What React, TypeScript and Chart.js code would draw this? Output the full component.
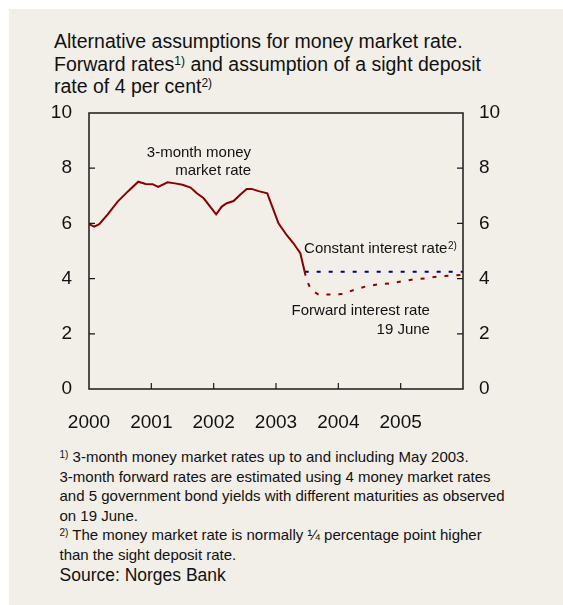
import React, { useEffect, useRef } from 'react';
import { Chart, registerables } from 'chart.js';

Chart.register(...registerables);

const FONT = 'Arial, "Liberation Sans", Helvetica, sans-serif';

// 3-month money market rate (decimal year, per cent)
const mmDates = [2000.0, 2000.085, 2000.165, 2000.30, 2000.46, 2000.62, 2000.79, 2000.91, 2001.02, 2001.11, 2001.26, 2001.38, 2001.50, 2001.63, 2001.73, 2001.84, 2002.04, 2002.13, 2002.21, 2002.32, 2002.42, 2002.53, 2002.61, 2002.72, 2002.86, 2003.04, 2003.17, 2003.28, 2003.39, 2003.46];
const mmRates = [5.97, 5.88, 5.97, 6.33, 6.79, 7.15, 7.51, 7.43, 7.42, 7.32, 7.49, 7.45, 7.40, 7.30, 7.09, 6.91, 6.33, 6.61, 6.73, 6.81, 7.03, 7.25, 7.25, 7.17, 7.09, 6.00, 5.58, 5.28, 4.92, 4.25];

// Constant interest rate assumption
const constDates = [2003.46, 2006.0];
const constRates = [4.25, 4.25];

// Forward interest rate 19 June
const fwdDates = [2003.46, 2003.49, 2003.56, 2003.68, 2003.88, 2004.07, 2004.25, 2004.43, 2004.63, 2004.83, 2005.02, 2005.2, 2005.4, 2005.6, 2005.8, 2006.0];
const fwdRates = [4.25, 3.95, 3.61, 3.42, 3.42, 3.44, 3.59, 3.71, 3.79, 3.83, 3.90, 3.97, 4.01, 4.08, 4.11, 4.14];

const yearTicks = [2000, 2001, 2002, 2003, 2004, 2005, 2006];
const valueTicks = [0, 2, 4, 6, 8, 10];

const annotations = [
  { text: '3-month money', x: 2002.60, y: 8.39, align: 'right' },
  { text: 'market rate', x: 2002.60, y: 7.75, align: 'right' },
  { text: 'Constant interest rate', sup: '2)', x: 2003.45, y: 4.91, align: 'left' },
  { text: 'Forward interest rate', x: 2005.47, y: 2.68, align: 'right' },
  { text: '19 June', x: 2005.47, y: 1.99, align: 'right' },
];

const toXY = (xs: number[], ys: number[]) => xs.map((x, i) => ({ x, y: ys[i] }));

const framePlugin = {
  id: 'frameTicksLabels',
  afterDatasetsDraw(chart: any) {
    const { ctx, chartArea: a, scales } = chart;
    ctx.save();
    ctx.strokeStyle = '#1a1a1a';
    ctx.lineWidth = 1.5;
    ctx.strokeRect(a.left, a.top, a.right - a.left, a.bottom - a.top);
    ctx.lineWidth = 1.2;
    ctx.beginPath();
    for (const v of valueTicks) {
      if (v === 0 || v === 10) continue;
      const y = scales.y.getPixelForValue(v);
      ctx.moveTo(a.left, y);
      ctx.lineTo(a.left + 6, y);
      ctx.moveTo(a.right, y);
      ctx.lineTo(a.right - 6, y);
    }
    for (const yr of yearTicks) {
      if (yr === 2000 || yr === 2006) continue;
      const x = scales.x.getPixelForValue(yr);
      ctx.moveTo(x, a.bottom);
      ctx.lineTo(x, a.bottom - 6);
    }
    ctx.stroke();

    ctx.fillStyle = '#111';
    ctx.textBaseline = 'alphabetic';
    for (const an of annotations) {
      const px = scales.x.getPixelForValue(an.x);
      const py = scales.y.getPixelForValue(an.y);
      ctx.font = `15px ${FONT}`;
      ctx.textAlign = an.align;
      ctx.fillText(an.text, px, py);
      if (an.sup) {
        const w = ctx.measureText(an.text).width;
        ctx.font = `10px ${FONT}`;
        ctx.textAlign = 'left';
        ctx.fillText(an.sup, an.align === 'left' ? px + w + 0.5 : px + 0.5, py - 4);
      }
    }
    ctx.restore();
  },
};

function ChartCanvas() {
  const ref = useRef<HTMLCanvasElement | null>(null);
  useEffect(() => {
    if (!ref.current) return;
    const tickFont = { family: FONT, size: 19 };
    const fitY = (w: number) => (s: any) => {
      s.width = w;
      s.paddingTop = 0;
      s.paddingBottom = 0;
    };
    const chart = new Chart(ref.current, {
      type: 'line',
      data: {
        datasets: [
          {
            label: '3-month money market rate',
            data: toXY(mmDates, mmRates),
            borderColor: '#880000',
            borderWidth: 2,
            pointRadius: 0,
            tension: 0,
          },
          {
            label: 'Forward interest rate 19 June',
            data: toXY(fwdDates, fwdRates),
            borderColor: '#880000',
            borderWidth: 2,
            borderDash: [4, 8],
            pointRadius: 0,
            tension: 0,
          },
          {
            label: 'Constant interest rate',
            data: toXY(constDates, constRates),
            borderColor: '#000088',
            borderWidth: 2,
            borderDash: [4, 8],
            pointRadius: 0,
            tension: 0,
          },
        ],
      },
      options: {
        animation: false,
        responsive: false,
        devicePixelRatio: 1,
        layout: { padding: { top: 18, left: 0, right: 0, bottom: 0 } },
        plugins: { legend: { display: false }, tooltip: { enabled: false }, title: { display: false } },
        scales: {
          x: {
            type: 'linear',
            position: 'bottom',
            min: 2000,
            max: 2006,
            afterBuildTicks: (s: any) => { s.ticks = yearTicks.map((v) => ({ value: v })); },
            afterFit: (s: any) => { s.height = 46; s.paddingLeft = 0; s.paddingRight = 0; },
            grid: { display: false, drawTicks: false },
            border: { display: false },
            ticks: {
              padding: 22,
              color: '#111',
              font: tickFont,
              maxRotation: 0,
              autoSkip: false,
              callback: (v: any) => (v === 2006 ? '' : String(v)),
            },
          },
          y: {
            type: 'linear',
            position: 'left',
            min: 0,
            max: 10,
            afterBuildTicks: (s: any) => { s.ticks = valueTicks.map((v) => ({ value: v })); },
            afterFit: fitY(89),
            grid: { display: false, drawTicks: false },
            border: { display: false },
            ticks: { padding: 17, color: '#111', font: tickFont, callback: (v: any) => String(v) },
          },
          y2: {
            type: 'linear',
            position: 'right',
            min: 0,
            max: 10,
            afterBuildTicks: (s: any) => { s.ticks = valueTicks.map((v) => ({ value: v })); },
            afterFit: fitY(100),
            grid: { display: false, drawTicks: false },
            border: { display: false },
            ticks: { padding: 16, color: '#111', font: tickFont, callback: (v: any) => String(v) },
          },
        },
      } as any,
      plugins: [framePlugin],
    });
    return () => chart.destroy();
  }, []);
  return (
    <canvas
      ref={ref}
      width={563}
      height={340}
      style={{ position: 'absolute', left: 0, top: 95, width: 563, height: 340, display: 'block' }}
    />
  );
}

const supStyle = (size: number, top: number): React.CSSProperties => ({
  fontSize: size,
  position: 'relative',
  top,
  lineHeight: 0,
});

export default function App() {
  return (
    <div style={{ position: 'absolute', left: 0, top: 0, width: 563, height: 605, overflow: 'hidden', fontFamily: FONT, color: '#111' }}>
      <div style={{ position: 'absolute', left: 9, top: 9, right: 0, bottom: 0, background: '#f2efe9' }} />
      <div style={{ position: 'absolute', left: 54, top: 30, fontSize: 19.5, lineHeight: '22.5px', whiteSpace: 'nowrap' }}>
        Alternative assumptions for money market rate.
        <br />
        Forward rates<span style={supStyle(12, -6)}>1)</span> and assumption of a sight deposit
        <br />
        rate of 4 per cent<span style={supStyle(12, -6)}>2)</span>
      </div>
      <ChartCanvas />
      <div style={{ position: 'absolute', left: 59.5, top: 447.4, fontSize: 15, lineHeight: '19.5px', whiteSpace: 'nowrap' }}>
        <span style={supStyle(10, -4)}>1)</span> 3-month money market rates up to and including May 2003.
        <br />
        3-month forward rates are estimated using 4 money market rates
        <br />
        and 5 government bond yields with different maturities as observed
        <br />
        on 19 June.
        <br />
        <span style={supStyle(10, -4)}>2)</span> The money market rate is normally ¼ percentage point higher
        <br />
        than the sight deposit rate.
      </div>
      <div style={{ position: 'absolute', left: 59.5, top: 564.6, fontSize: 17.5, lineHeight: '20px', whiteSpace: 'nowrap' }}>
        Source: Norges Bank
      </div>
    </div>
  );
}
